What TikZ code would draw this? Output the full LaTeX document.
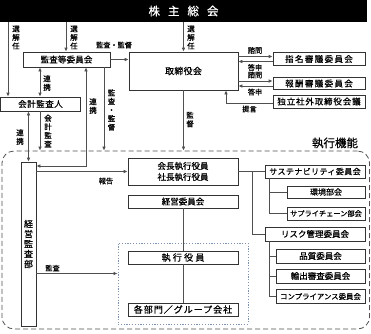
\documentclass[tikz,border=0pt]{standalone}
\usepackage{fontspec}
\setmainfont{Noto Sans CJK JP}[FakeBold=0.7]
\usetikzlibrary{arrows.meta}
\newcommand{\jtxt}[3]{{\fontsize{#1}{#1}\selectfont\addfontfeature{LetterSpace=#2}#3}}
\definecolor{lncol}{HTML}{505050}
\definecolor{bxcol}{HTML}{333333}
\definecolor{dotcol}{HTML}{7F95B5}
\begin{document}
\begin{tikzpicture}[x=1pt,y=-1pt,
  box/.style={draw=bxcol, line width=0.75pt, fill=white, inner sep=0pt, anchor=center},
  conn/.style={draw=lncol, line width=0.75pt},
  arr/.style={conn, -{Latex[length=4pt,width=3.6pt]}},
  darr/.style={conn, {Latex[length=4pt,width=3.6pt]}-{Latex[length=4pt,width=3.6pt]}},
  lbl/.style={inner sep=0pt, font=\fontsize{7.2}{7.2}\selectfont},
  vlbl/.style={inner sep=0pt, align=center, font=\fontsize{7.5}{8.6}\selectfont},
]
\useasboundingbox (0,0) rectangle (371,333);

% regions
\node[draw=lncol, line width=0.8pt, dash pattern=on 5pt off 3pt, rounded corners=12pt,
      minimum width=367.5pt, minimum height=178pt, inner sep=0pt] (exec) at (185.75,240) {};
\node[draw=dotcol, line width=1pt, dash pattern=on 1.2pt off 1.6pt,
      minimum width=130pt, minimum height=81pt, inner sep=0pt] (grp) at (183,283.5) {};
\node[inner sep=0pt] (execlbl) at (335,143) {\jtxt{11.5}{0}{執行機能}};

% header
\node[fill=black, minimum width=367pt, minimum height=22pt, inner sep=0pt, text=white] (hdr) at (183.5,11)
  {\jtxt{11.5}{0}{株\hspace{8pt}主\hspace{8pt}総\hspace{8pt}会}};

% boxes
\node[box, minimum width=87pt, minimum height=15pt] (kansa) at (66.5,59.5) {\jtxt{8.5}{2}{監査等委員会}};
\node[box, minimum width=109pt, minimum height=38pt] (tori) at (183.5,71) {\jtxt{9}{3}{取締役会}};
\node[box, minimum width=92pt, minimum height=12.5pt] (shimei) at (319,59) {\jtxt{8.5}{16}{指名審議委員会}};
\node[box, minimum width=92pt, minimum height=12.5pt] (hoshu) at (319,83.5) {\jtxt{8.5}{16}{報酬審議委員会}};
\node[box, minimum width=92pt, minimum height=13pt] (doku) at (319,101.5) {\jtxt{8.5}{10}{独立社外取締役会議}};
\node[box, minimum width=80pt, minimum height=14pt] (kaikei) at (40.5,104) {\jtxt{8.5}{6}{会計監査人}};
\node[box, minimum width=15pt, minimum height=164pt, align=center, font=\fontsize{9}{10}\selectfont] (kbu) at (28.5,244)
  {経\\営\\監\\査\\部};
\node[box, minimum width=110pt, minimum height=27pt, align=center, font=\fontsize{8.5}{11}\selectfont] (kaicho) at (183,171.5)
  {会長執行役員\\社長執行役員};
\node[box, minimum width=110pt, minimum height=13pt] (keiei) at (183,201.5) {\jtxt{8.5}{0}{経営委員会}};
\node[box, minimum width=110pt, minimum height=13pt] (shikko) at (183,257.5) {\jtxt{9}{25}{執行役員}};
\node[box, minimum width=110pt, minimum height=13pt] (kakubu) at (183,309.5) {\jtxt{9}{11}{各部門／グループ会社}};

\node[box, minimum width=100pt, minimum height=13pt] (sus) at (315,171.5) {\jtxt{8}{5}{サステナビリティ委員会}};
\node[box, minimum width=78pt, minimum height=12pt] (kankyo) at (326,192) {\jtxt{8}{0}{環境部会}};
\node[box, minimum width=78pt, minimum height=13pt] (supply) at (326,213.5) {\jtxt{7.2}{0}{サプライチェーン部会}};
\node[box, minimum width=100pt, minimum height=14pt] (risk) at (315,234) {\jtxt{8.5}{0}{リスク管理委員会}};
\node[box, minimum width=89pt, minimum height=14pt] (hinshitsu) at (320.5,256) {\jtxt{8.5}{0}{品質委員会}};
\node[box, minimum width=89pt, minimum height=14pt] (yushutsu) at (320.5,276) {\jtxt{8.5}{0}{輸出審査委員会}};
\node[box, minimum width=89pt, minimum height=14pt] (comp) at (320.5,296.5) {\jtxt{7.4}{0}{コンプライアンス委員会}};

% helper coordinates
\coordinate (xa) at (8,0);
\coordinate (xb) at (66,0);
\coordinate (xd) at (40,0);
\coordinate (xe) at (86,0);
\coordinate (ye) at (0,166);
\coordinate (xf) at (104,0);
\coordinate (yi) at (0,273.5);
\coordinate (ya1) at (0,56.5);
\coordinate (ya2) at (0,61.5);
\coordinate (yb1) at (0,81);
\coordinate (yb2) at (0,86);
\coordinate (xt) at (226,0);
\coordinate (yt) at (0,103);
\coordinate (xtr) at (252,0);
\coordinate (xs) at (269,0);

% from shareholders meeting
\draw[arr] (hdr.south -| xa) -- (kaikei.north -| xa);
\draw[arr] (hdr.south -| xb) -- (kansa.north -| xb);
\draw[arr] (hdr.south -| tori.north) -- (tori.north);
\node[vlbl] (s1) at (16,37.5) {選\\解\\任};
\node[vlbl] (s2) at (74,37.5) {選\\解\\任};
\node[vlbl] (s3) at (191,37.5) {選\\解\\任};

% audit committee relations
\draw[arr] (kansa.east) -- (kansa.east -| tori.west);
\node[lbl] (l1) at (114,45) {監査・監督};
\draw[darr] (kansa.south -| xd) -- (kaikei.north -| xd);
\node[vlbl] (l2) at (47,83) {連\\携};
\draw[darr] (kansa.south -| xe) |- (kbu.east |- ye);
\node[vlbl] (l3) at (93,106) {連\\携};
\draw[arr] (kansa.south -| xf) -- (exec.north -| xf);
\node[vlbl] (l4) at (111.5,110) {監\\査\\・\\監\\督};
\draw[arr] (tori.south) -- (exec.north -| tori.south);
\node[vlbl] (l5) at (190,119.5) {監\\督};

% accounting auditor
\draw[darr] (kaikei.south -| kbu.north) -- (kbu.north);
\node[vlbl] (l6) at (20,137) {連\\携};
\draw[arr] (kaikei.south -| xd) -- (exec.north -| xd);
\node[vlbl] (l7) at (48,131) {会\\計\\監\\査};

% internal audit
\draw[arr] (kbu.east |- kaicho.west) -- (kaicho.west);
\node[lbl] (l8) at (106,181) {報告};
\draw[arr] (kbu.east |- yi) -- (grp.west |- yi);
\node[lbl] (l9) at (52.5,268) {監査};

% execution chain
\draw[conn] (keiei.south) -- (shikko.north);
\draw[conn] (shikko.south) -- (kakubu.north);

% board committees
\draw[arr] (tori.east |- ya1) -- (shimei.west |- ya1);
\draw[arr] (shimei.west |- ya2) -- (tori.east |- ya2);
\node[lbl] (l10) at (255,50.5) {諮問};
\node[lbl] (l11) at (255,67.5) {答申};
\draw[arr] (tori.east |- yb1) -- (hoshu.west |- yb1);
\draw[arr] (hoshu.west |- yb2) -- (tori.east |- yb2);
\node[lbl] (l12) at (255,75) {諮問};
\node[lbl] (l13) at (255,92) {答申};
\draw[arr] (doku.west |- yt) -| (tori.south -| xt);
\node[lbl] (l14) at (249.5,109) {提言};

% committee tree
\draw[conn] (kaicho.east) -- (sus.west);
\draw[conn] (xtr |- kaicho.east) |- (risk.west);
\draw[conn] (sus.south -| xs) |- (supply.west);
\draw[conn] (xs |- kankyo.west) -- (kankyo.west);
\draw[conn] (risk.south -| xs) |- (comp.west);
\draw[conn] (xs |- hinshitsu.west) -- (hinshitsu.west);
\draw[conn] (xs |- yushutsu.west) -- (yushutsu.west);
\end{tikzpicture}
\end{document}
